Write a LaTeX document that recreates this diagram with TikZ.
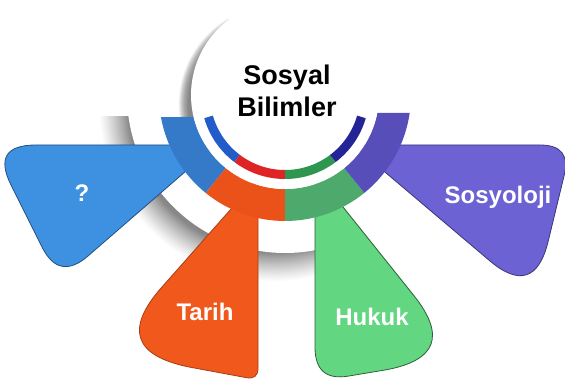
\documentclass[tikz,border=0pt]{standalone}
\usepackage{fontspec}
\setmainfont{Liberation Sans}

\definecolor{petalblue}{RGB}{62,145,225}
\definecolor{ringblue}{RGB}{52,122,200}
\definecolor{petalorange}{RGB}{240,88,28}
\definecolor{ringorange}{RGB}{235,82,25}
\definecolor{petalgreen}{RGB}{98,214,128}
\definecolor{ringgreen}{RGB}{78,170,108}
\definecolor{petalpurple}{RGB}{108,98,212}
\definecolor{ringpurple}{RGB}{88,78,186}
\definecolor{bandblue}{RGB}{35,92,200}
\definecolor{bandred}{RGB}{222,36,36}
\definecolor{bandgreen}{RGB}{46,150,78}
\definecolor{bandnavy}{RGB}{36,36,150}
\definecolor{shadowdark}{RGB}{135,135,135}
\definecolor{shadowmid}{RGB}{168,168,168}
\definecolor{shadowlight}{RGB}{205,205,205}
\definecolor{shadowfaint}{RGB}{235,235,235}

% the central 50bp square of a shading fills the shaded path
\pgfdeclareradialshading{ringshadow}{\pgfpointorigin}{color(0bp)=(shadowdark); color(20.1bp)=(shadowdark); color(21bp)=(shadowmid); color(22.2bp)=(shadowlight); color(23.3bp)=(shadowfaint); color(24.2bp)=(white); color(50bp)=(white)}
\pgfdeclareradialshading{discshadow}{\pgfpointorigin}{color(0bp)=(shadowdark); color(21.2bp)=(shadowdark); color(22.2bp)=(shadowmid); color(22.9bp)=(shadowlight); color(23.6bp)=(white); color(50bp)=(white)}

\begin{document}
\begin{tikzpicture}[
  x=1pt, y=1pt,
  petal/.style = {line width=0.8pt},
  band/.style = {line width=9pt},
  title/.style = {anchor=base, inner sep=0pt, text=black,
                  font=\fontsize{27}{30}\selectfont\bfseries},
  petaltext/.style = {anchor=base, inner sep=0pt, text=white,
                      font=\fontsize{24}{28}\selectfont\bfseries}
]
\useasboundingbox (0,0) rectangle (565,378);
\coordinate (c) at (285,283);

% Shadow of the outer white ring
\begin{scope}
  \clip (0,0) rectangle (330,261);
  \shade[shading=ringshadow] (273,271) circle[radius=180];
\end{scope}
\fill[white] (c) circle[radius=158];

% Shadow of the centre disc
\begin{scope}
  \clip (150,261) rectangle (285,358);
  \shade[shading=discshadow] (278,274) circle[radius=106];
\end{scope}

% Petals
\filldraw[petal, fill=petalblue, draw=petalblue!55!black]
  (216,233) -- (36,233) .. controls (6,233) and (-2.3,219.7) .. (11,193)
  -- (42,131) .. controls (53.3,108.3) and (68.7,105.3) .. (88,122) -- cycle;
\filldraw[petal, fill=petalorange, draw=petalorange!70!black]
  (258,199.5) -- (258,10) .. controls (258,2) and (254,-1.2) .. (246,0.4)
  -- (189,11) .. controls (133.7,22.3) and (124.7,49) .. (162,91) -- cycle;
\filldraw[petal, fill=petalgreen, draw=petalgreen!45!black]
  (315,206) -- (315,31) .. controls (315,7.7) and (326.3,-2) .. (349,2)
  -- (385,8) .. controls (437,17.3) and (446.3,42.5) .. (413,83.5) -- cycle;
\filldraw[petal, fill=petalpurple, draw=petalpurple!55!black]
  (353,233) -- (540,233) .. controls (561.3,233) and (569.3,222.7) .. (564,202)
  -- (548,136) .. controls (538.7,98.7) and (519.3,92.3) .. (490,117) -- cycle;

% Coloured ring round the disc
\fill[ringblue] ([shift={(190.1:126)}]c) arc[start angle=190.1, end angle=231, radius=126]
  -- ([shift={(231:94)}]c) arc[start angle=231, end angle=193.5, radius=94] -- cycle;
\fill[ringorange] ([shift={(231:126)}]c) arc[start angle=231, end angle=270, radius=126]
  -- ([shift={(270:94)}]c) arc[start angle=270, end angle=231, radius=94] -- cycle;
\fill[ringgreen] ([shift={(270:126)}]c) arc[start angle=270, end angle=309, radius=126]
  -- ([shift={(309:94)}]c) arc[start angle=309, end angle=270, radius=94] -- cycle;
\fill[ringpurple] ([shift={(309:126)}]c) arc[start angle=309, end angle=351.8, radius=126]
  -- ([shift={(349:94)}]c) arc[start angle=349, end angle=309, radius=94] -- cycle;

% Centre disc
\fill[white] (c) circle[radius=94];

% Thin coloured arc inside the disc
\draw[band, bandblue] ([shift={(196:79.5)}]c) arc[start angle=196, end angle=233, radius=79.5];
\draw[band, bandred] ([shift={(233:79.5)}]c) arc[start angle=233, end angle=270, radius=79.5];
\draw[band, bandgreen] ([shift={(270:79.5)}]c) arc[start angle=270, end angle=307, radius=79.5];
\draw[band, bandnavy] ([shift={(307:79.5)}]c) arc[start angle=307, end angle=344, radius=79.5];

% Texts
\node[title] (sosyal) at (287,293) {Sosyal};
\node[title] (bilimler) at (287,261) {Bilimler};
\node[petaltext] (soru) at (82,176) {?};
\node[petaltext] (tarih) at (205,58) {Tarih};
\node[petaltext] (hukuk) at (372,53) {Hukuk};
\node[petaltext] (sosyoloji) at (498,175) {Sosyoloji};

\end{tikzpicture}
\end{document}
